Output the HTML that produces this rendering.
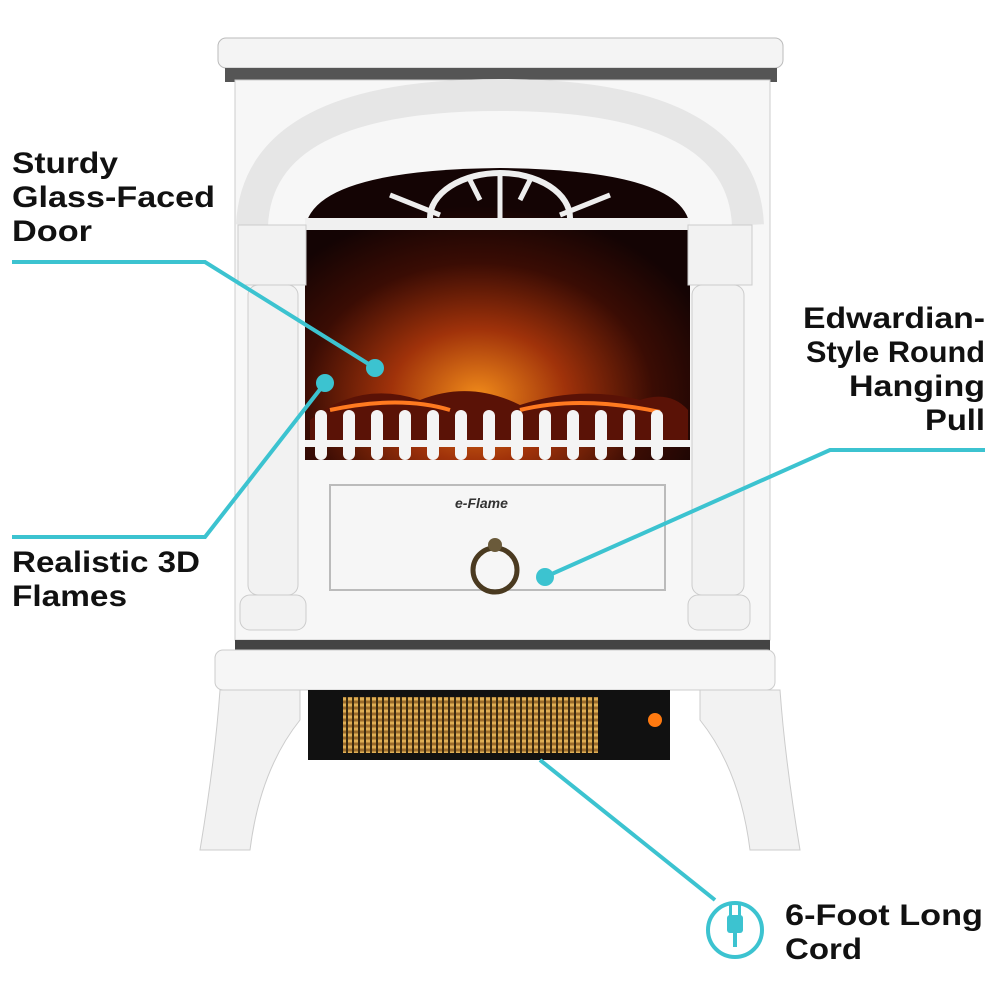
<!DOCTYPE html>
<html><head><meta charset="utf-8"><style>
html,body{margin:0;padding:0;background:#fff;}
svg{display:block}
text{font-family:"Liberation Sans",Arial,sans-serif;font-weight:bold;fill:#111;font-size:30px}
</style></head><body>
<svg width="1000" height="1000" viewBox="0 0 1000 1000" xmlns="http://www.w3.org/2000/svg">
<defs>
<radialGradient id="fire" cx="0.45" cy="0.78" r="0.65">
<stop offset="0" stop-color="#f08a1a"/><stop offset="0.35" stop-color="#a0320a"/><stop offset="0.7" stop-color="#3a0c04"/><stop offset="1" stop-color="#140404"/>
</radialGradient>
<linearGradient id="heat" x1="0" y1="0" x2="0" y2="1">
<stop offset="0" stop-color="#8a5a20"/><stop offset="0.5" stop-color="#f0c060"/><stop offset="1" stop-color="#8a5a20"/>
</linearGradient>
<pattern id="grill" width="6" height="6" patternUnits="userSpaceOnUse"><rect width="6" height="6" fill="url(#heat)"/><rect x="4" width="2" height="6" fill="#3a2a10"/></pattern>
</defs>
<rect x="218" y="38" width="565" height="30" rx="8" fill="#f4f4f4" stroke="#bbb"/>
<rect x="225" y="68" width="552" height="14" fill="#555"/>
<path d="M235 80 H770 V640 H235 Z" fill="#f7f7f7" stroke="#ccc"/>
<path d="M252 225 Q258 95 500 95 Q742 95 748 225" fill="none" stroke="#e6e6e6" stroke-width="32"/>
<path d="M305 230 Q310 170 500 168 Q690 170 690 230 V460 H305 Z" fill="url(#fire)"/>
<rect x="305" y="218" width="385" height="12" fill="#f0f0f0"/>
<path d="M430 218 A70 45 0 0 1 570 218" fill="none" stroke="#eee" stroke-width="6"/>
<g stroke="#eee" stroke-width="5"><line x1="500" y1="172" x2="500" y2="218"/><line x1="470" y1="180" x2="480" y2="200"/><line x1="530" y1="180" x2="520" y2="200"/><line x1="390" y1="195" x2="440" y2="215"/><line x1="610" y1="195" x2="560" y2="215"/></g>
<path d="M310 420 Q360 380 420 400 Q470 380 520 405 Q580 385 640 400 Q670 390 688 410 V440 H310 Z" fill="#5a1206"/>
<path d="M330 410 Q400 395 450 410 M520 410 Q580 395 660 412" stroke="#ff7a20" stroke-width="4" fill="none"/>
<g fill="#f4f4f4">
<rect x="315" y="410" width="12" height="50" rx="6"/><rect x="343" y="410" width="12" height="50" rx="6"/><rect x="371" y="410" width="12" height="50" rx="6"/><rect x="399" y="410" width="12" height="50" rx="6"/><rect x="427" y="410" width="12" height="50" rx="6"/><rect x="455" y="410" width="12" height="50" rx="6"/><rect x="483" y="410" width="12" height="50" rx="6"/><rect x="511" y="410" width="12" height="50" rx="6"/><rect x="539" y="410" width="12" height="50" rx="6"/><rect x="567" y="410" width="12" height="50" rx="6"/><rect x="595" y="410" width="12" height="50" rx="6"/><rect x="623" y="410" width="12" height="50" rx="6"/><rect x="651" y="410" width="12" height="50" rx="6"/>
<rect x="305" y="440" width="385" height="7"/>
</g>
<g fill="#f2f2f2" stroke="#ccc">
<rect x="238" y="225" width="68" height="60"/><rect x="248" y="285" width="50" height="310" rx="10"/><rect x="240" y="595" width="66" height="35" rx="10"/>
<rect x="688" y="225" width="64" height="60"/><rect x="692" y="285" width="52" height="310" rx="10"/><rect x="688" y="595" width="62" height="35" rx="10"/>
</g>
<path d="M330 485 H665 V590 H330 Z" fill="#f6f6f6" stroke="#bbb" stroke-width="2"/>
<text x="455" y="508" style="font-size:14px;font-style:italic;fill:#333">e-Flame</text>
<circle cx="495" cy="570" r="22" fill="none" stroke="#4a3a20" stroke-width="5"/>
<circle cx="495" cy="545" r="7" fill="#6a5a3a"/>
<rect x="235" y="640" width="535" height="10" fill="#444"/>
<rect x="215" y="650" width="560" height="40" rx="8" fill="#f6f6f6" stroke="#ccc"/>
<path d="M220 690 H300 V720 Q260 770 250 850 H200 Q215 760 220 690Z" fill="#f2f2f2" stroke="#ccc"/>
<path d="M700 690 H780 Q785 760 800 850 H750 Q740 770 700 720Z" fill="#f2f2f2" stroke="#ccc"/>
<rect x="308" y="690" width="362" height="70" fill="#111"/>
<rect x="343" y="697" width="255" height="56" fill="url(#grill)"/>
<circle cx="655" cy="720" r="7" fill="#ff7a10"/>
<g stroke="#3cc3d0" stroke-width="4" fill="none">
<polyline points="12,262 205,262 375,368"/>
<polyline points="12,537 205,537 325,383"/>
<polyline points="985,450 830,450 545,577"/>
<polyline points="540,760 715,900"/>
<circle cx="735" cy="930" r="27"/>
</g>
<g fill="#3cc3d0"><circle cx="375" cy="368" r="9"/><circle cx="325" cy="383" r="9"/><circle cx="545" cy="577" r="9"/>
<rect x="727" y="915" width="16" height="18" rx="3"/><rect x="729" y="905" width="3" height="12"/><rect x="738" y="905" width="3" height="12"/><rect x="733" y="933" width="4" height="14"/></g>
<text x="12" y="173" textLength="106" lengthAdjust="spacingAndGlyphs">Sturdy</text>
<text x="12" y="207" textLength="203" lengthAdjust="spacingAndGlyphs">Glass-Faced</text>
<text x="12" y="241" textLength="80" lengthAdjust="spacingAndGlyphs">Door</text>
<text x="12" y="572" textLength="188" lengthAdjust="spacingAndGlyphs">Realistic 3D</text>
<text x="12" y="606" textLength="115" lengthAdjust="spacingAndGlyphs">Flames</text>
<text x="803" y="328" textLength="182" lengthAdjust="spacingAndGlyphs">Edwardian-</text>
<text x="806" y="362" textLength="179" lengthAdjust="spacingAndGlyphs">Style Round</text>
<text x="849" y="396" textLength="136" lengthAdjust="spacingAndGlyphs">Hanging</text>
<text x="925" y="430" textLength="60" lengthAdjust="spacingAndGlyphs">Pull</text>
<text x="785" y="925" textLength="198" lengthAdjust="spacingAndGlyphs">6-Foot Long</text>
<text x="785" y="959" textLength="77" lengthAdjust="spacingAndGlyphs">Cord</text>
</svg>
</body></html>
